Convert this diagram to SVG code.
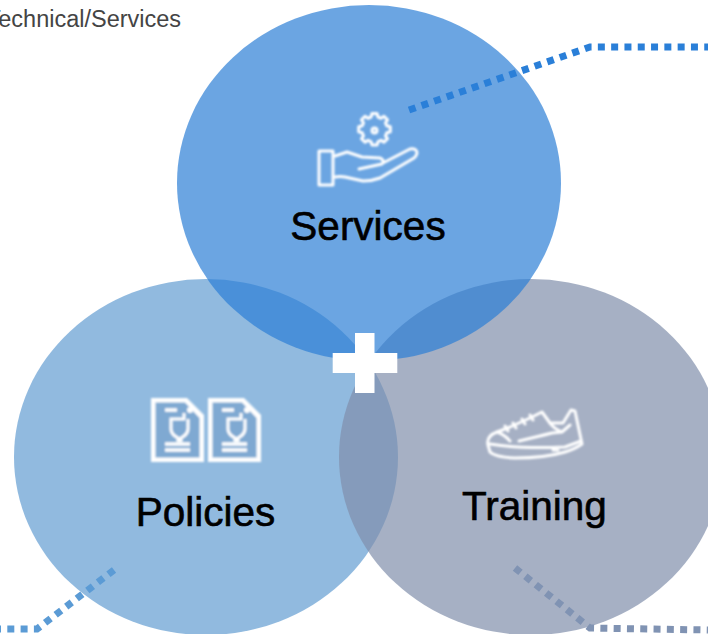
<svg xmlns="http://www.w3.org/2000/svg" width="708" height="634" viewBox="0 0 708 634">
<style>
.lab{font-family:"Liberation Sans",Arial,sans-serif;font-size:40.500px;fill:#000;stroke:#000;stroke-width:.6;text-anchor:middle}
.cap{font-family:"Liberation Sans",Arial,sans-serif;font-size:23.500px;fill:#444}
.ic{fill:none;stroke:#fff;stroke-width:3;stroke-linejoin:round;stroke-linecap:round}
.con{fill:none;stroke-width:7}
</style>
<defs>
<filter id="soft" x="-10%" y="-10%" width="120%" height="120%"><feGaussianBlur stdDeviation="0.9"/></filter>
<g id="doc">
<path d="M151 398H187L204 415V462H151Z" fill="#fff"/>
<path d="M155.500 402.500H185L199.500 418V457.500H155.500Z" fill="#7FA9D2"/>
<path d="M165 410H177" stroke="#fff" stroke-width="3.500" fill="none"/>
<circle cx="190" cy="410" r="3" fill="#fff"/>
<path d="M184 413V419H171V429Q171 433 175 436L178 438V442M188 419V429Q188 433 184 436L181 438V442" fill="none" stroke="#fff" stroke-width="3"/>
<path d="M165 444H190M165 450H190" stroke="#fff" stroke-width="3.500" fill="none"/>
</g>
</defs>
<text id="caption" class="cap" x="-13.500" y="26.500">Technical/Services</text>
<g id="policies"><ellipse cx="206" cy="457" rx="192" ry="178" fill="#639CD1" fill-opacity=".7"/></g>
<g id="training"><ellipse cx="531" cy="457" rx="192" ry="178" fill="#808FAB" fill-opacity=".7"/></g>
<g id="services"><ellipse cx="369" cy="183" rx="192" ry="178" fill="#2C7FD6" fill-opacity=".7"/></g>
<g id="connectors">
<path class="con" stroke="#2A7FD8" stroke-dasharray="7 6.300" d="M409 110L590 47H708"/>
<path class="con" stroke="#5B9BD5" stroke-dasharray="7 6.300" d="M114 570L37 629L0 629"/>
<path class="con" stroke="#8093B3" stroke-dasharray="7 6.300" d="M515 568L590 628L708 630"/>
</g>
<g id="services-content">
<g filter="url(#soft)">
<path class="ic" d="M372 113.500h5l1 3.500 3 1.300 3-2 3.500 3.500-2 3 1.300 3 3.500 1v5l-3.500 1-1.300 3 2 3-3.500 3.500-3-2-3 1.300-1 3.500h-5l-1-3.500-3-1.300-3 2-3.500-3.500 2-3-1.300-3-3.500-1v-5l3.500-1 1.300-3-2-3 3.500-3.500 3 2 3-1.300z"/>
<circle class="ic" cx="374.500" cy="130.500" r="2.500"/>
<rect class="ic" x="319" y="151" width="14" height="34"/>
<path class="ic" d="M335 156L347 152L362 157L380 158Q385 160 382 164L359 169M383 163L410 149Q417 148 417 153Q416 157 414 158L380 178Q372 181 363 181L345 177Q340 176 335 177"/>
</g>
<text class="lab" x="368" y="240">Services</text>
</g>
<g id="policies-content">
<g filter="url(#soft)"><use href="#doc"/><use href="#doc" x="57"/></g>
<text class="lab" x="205.500" y="526">Policies</text>
</g>
<g id="training-content">
<g filter="url(#soft)">
<path class="ic" d="M488 445Q486 436 497 432Q505 429 510 427L530 418L542 412L550 423L563 423L571 410L575 411L582 444Q575 449 565 452Q545 458 515 458Q495 457 490 452Z"/>
<path class="ic" d="M490 444Q520 449 565 447L581 441M497 432Q505 435 510 441M519 441Q540 436 552 433L562 432L570 425M550 423Q553 428 562 432M505 426L508 431M513 423L516 428M522 419L525 424M530 415L533 420M553 450L558 450"/>
</g>
<text class="lab" x="534.500" y="520">Training</text>
</g>
<g id="plus"><path d="M355 333H374.500V353H397.300V373H374.500V393H355V373H332.700V353H355Z" fill="#fff"/></g>
</svg>
